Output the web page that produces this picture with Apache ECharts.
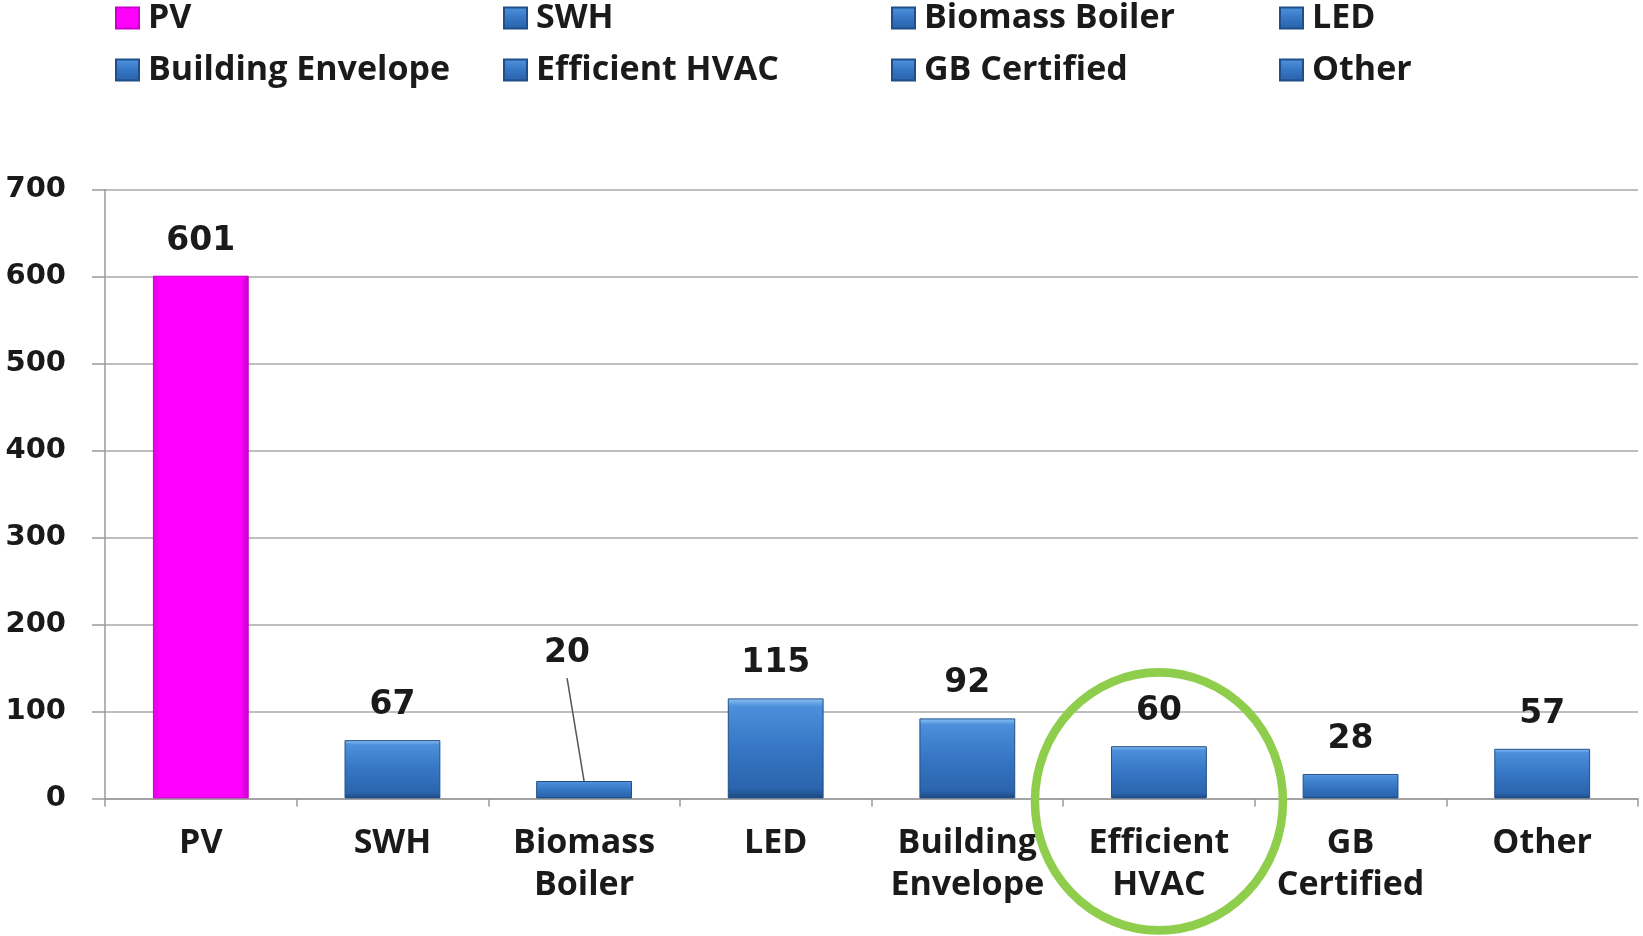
<!DOCTYPE html>
<html>
<head>
<meta charset="utf-8">
<script src="https://cdn.jsdelivr.net/npm/echarts@6/dist/echarts.min.js"></script>
<style>
html,body{margin:0;padding:0;background:#fff;}
#chart{width:1643px;height:936px;}
</style>
</head>
<body>
<div id="chart"></div>
<script>
// ---- data ----
const categories = ['PV', 'SWH', 'Biomass Boiler', 'LED', 'Building Envelope', 'Efficient HVAC', 'GB Certified', 'Other'];
const axisLabels = ['PV', 'SWH', 'Biomass\nBoiler', 'LED', 'Building\nEnvelope', 'Efficient\nHVAC', 'GB\nCertified', 'Other'];
const values = [601, 67, 20, 115, 92, 60, 28, 57];
const yTicks = [0, 100, 200, 300, 400, 500, 600, 700];
const highlighted = 'Efficient HVAC';
const calloutCategory = 'Biomass Boiler';

// ---- styles ----
const blueFill = new echarts.graphic.LinearGradient(0, 0, 0, 1, [
  {offset: 0, color: '#8cc3f2'},
  {offset: 0.08, color: '#4d8fda'},
  {offset: 0.5, color: '#3676c4'},
  {offset: 0.9, color: '#2b65ad'},
  {offset: 1, color: '#1c487f'}
]);
const pinkFill = new echarts.graphic.LinearGradient(0, 0, 1, 0, [
  {offset: 0, color: '#e600e6'},
  {offset: 0.08, color: '#ff00ff'},
  {offset: 0.92, color: '#ff00ff'},
  {offset: 1, color: '#c400c4'}
]);

const LABEL_DX = -17, LABEL_DY = -93;

const series = categories.map((name, i) => {
  const data = values.map((v, j) => (j === i ? v : null));
  const s = {
    name: name,
    type: 'bar',
    stack: 'all',
    barWidth: '50%',
    data: data,
    itemStyle: {
      color: i === 0 ? pinkFill : blueFill,
      borderColor: i === 0 ? '#cc00cc' : '#1f4f8a',
      borderWidth: 1
    },
    label: {
      show: true,
      position: 'top',
      distance: 18,
      fontFamily: 'DejaVu Sans',
      fontWeight: 'bold',
      fontSize: 33,
      color: '#1a1a1a'
    }
  };
  if (name === calloutCategory) {
    s.labelLayout = {dx: LABEL_DX, dy: LABEL_DY};
  }
  return s;
});

const legends = categories.map((name, i) => ({
  data: [name],
  left: 115 + (i % 4) * 388,
  top: 1 + Math.floor(i / 4) * 52,
  padding: 0,
  itemWidth: 23,
  itemHeight: 21,
  icon: 'rect',
  textStyle: {
    fontFamily: 'Open Sans',
    fontWeight: 'bold',
    fontSize: 34,
    lineHeight: 32,
    color: '#1a1a1a',
    padding: [0, 0, 0, 4]
  }
}));

const chart = echarts.init(document.getElementById('chart'), null, {renderer: 'canvas'});
chart.setOption({
  animation: false,
  backgroundColor: '#fff',
  legend: legends,
  grid: {left: 105, right: 5, top: 189.6, bottom: 137.6, containLabel: false},
  xAxis: {
    type: 'category',
    data: categories,
    axisLine: {lineStyle: {color: '#9a9a9a', width: 1.5}},
    axisTick: {show: true, alignWithLabel: false, length: 8, lineStyle: {color: '#9a9a9a', width: 1.5}},
    axisLabel: {
      interval: 0,
      margin: 24,
      fontFamily: 'Open Sans',
      fontWeight: 'bold',
      fontSize: 34,
      lineHeight: 42,
      color: '#1a1a1a',
      formatter: (v) => axisLabels[categories.indexOf(v)]
    }
  },
  yAxis: {
    type: 'value',
    min: yTicks[0],
    max: yTicks[yTicks.length - 1],
    interval: yTicks[1] - yTicks[0],
    axisLine: {show: true, lineStyle: {color: '#9a9a9a', width: 1.5}},
    axisTick: {show: true, length: 13, lineStyle: {color: '#9a9a9a', width: 1.5}},
    splitLine: {lineStyle: {color: '#a8a8a8', width: 1.5}},
    axisLabel: {
      margin: 39,
      fontFamily: 'DejaVu Sans',
      fontWeight: 'bold',
      fontSize: 29,
      color: '#1a1a1a'
    }
  },
  series: series
});

// annotation ring around the highlighted category
const ringCenter = chart.convertToPixel({xAxisIndex: 0, yAxisIndex: 0}, [highlighted, 0]);
// leader line from the moved "20" label down to its bar top
const ci = categories.indexOf(calloutCategory);
const barTop = chart.convertToPixel({xAxisIndex: 0, yAxisIndex: 0}, [calloutCategory, values[ci]]);
chart.setOption({
  graphic: [{
    type: 'circle',
    x: ringCenter[0],
    y: ringCenter[1] + 3,
    scaleY: 1.04,
    shape: {cx: 0, cy: 0, r: 124},
    style: {fill: 'none', stroke: '#8fce4c', lineWidth: 8.5},
    z: 100
  }, {
    type: 'line',
    shape: {x1: barTop[0] + LABEL_DX, y1: barTop[1] - 103, x2: barTop[0], y2: barTop[1]},
    style: {stroke: '#555', lineWidth: 1.5},
    z: 50
  }]
});
</script>
</body>
</html>
